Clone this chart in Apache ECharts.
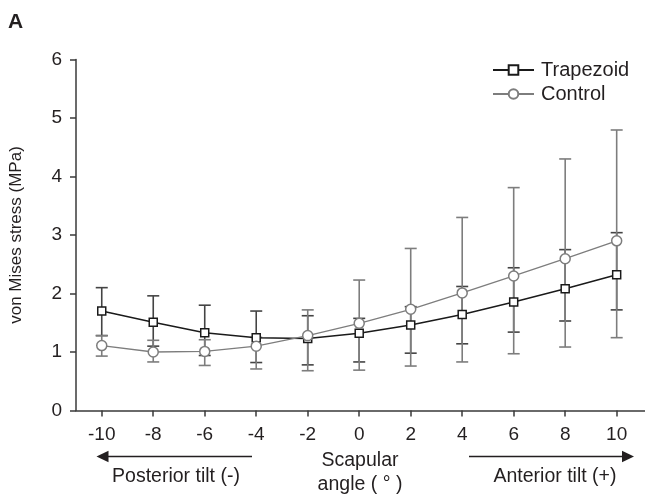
<!DOCTYPE html>
<html>
<head>
<meta charset="utf-8">
<script src="https://cdn.jsdelivr.net/npm/echarts@6/dist/echarts.min.js"></script>
<style>
  html, body { margin: 0; padding: 0; background: #fff; }
  #chart { width: 645px; height: 498px; }
</style>
</head>
<body>
<div id="chart"></div>
<script>
// scapular angle (deg)
const angles = [-10, -8, -6, -4, -2, 0, 2, 4, 6, 8, 10];

// Trapezoid: mean and error bar ends (MPa)
const trapMean = [1.70, 1.51, 1.33, 1.245, 1.23, 1.32, 1.46, 1.64, 1.855, 2.08, 2.32];
const trapLow  = [1.28, 1.10, 0.94, 0.82, 0.78, 0.83, 0.98, 1.14, 1.34, 1.53, 1.72];
const trapHigh = [2.10, 1.96, 1.80, 1.70, 1.62, 1.575, 1.775, 2.12, 2.44, 2.75, 3.04];

// Control
const ctrlMean = [1.11, 1.00, 1.01, 1.10, 1.28, 1.49, 1.73, 2.01, 2.30, 2.595, 2.90];
const ctrlLow  = [0.93, 0.83, 0.77, 0.71, 0.68, 0.69, 0.76, 0.83, 0.97, 1.085, 1.245];
const ctrlHigh = [1.28, 1.20, 1.21, 1.25, 1.72, 2.23, 2.77, 3.30, 3.81, 4.30, 4.795];

const yTicks = [0, 1, 2, 3, 4, 5, 6];

const textColor = '#231f20';
const axisColor = '#3a3a3a';
const trapColor = '#1a1a1a';
const ctrlColor = '#7d7d7d';

function pairs(ys) {
  return angles.map((x, i) => [x, ys[i]]);
}

function errorData(low, high) {
  return angles.map((x, i) => [x, low[i], high[i]]);
}

function errorSeries(name, low, high, color) {
  return {
    name: name,
    type: 'custom',
    silent: true,
    z: 1,
    data: errorData(low, high),
    encode: { x: 0, y: [1, 2] },
    renderItem: function (params, api) {
      const x = api.value(0);
      const lo = api.coord([x, api.value(1)]);
      const hi = api.coord([x, api.value(2)]);
      const w = 6;
      const style = { stroke: color, lineWidth: 1.6 };
      return {
        type: 'group',
        children: [
          { type: 'line', shape: { x1: lo[0], y1: lo[1], x2: hi[0], y2: hi[1] }, style: style },
          { type: 'line', shape: { x1: lo[0] - w, y1: lo[1], x2: lo[0] + w, y2: lo[1] }, style: style },
          { type: 'line', shape: { x1: hi[0] - w, y1: hi[1], x2: hi[0] + w, y2: hi[1] }, style: style }
        ]
      };
    }
  };
}

const chart = echarts.init(document.getElementById('chart'), null, { renderer: 'canvas' });

const font = 'Liberation Sans, Arial, sans-serif';

function label(x, y, text) {
  return {
    type: 'text', x: x, y: y,
    style: { text: text, align: 'center', verticalAlign: 'middle', fontSize: 19.5, fill: textColor, fontFamily: font }
  };
}

const option = {
  animation: false,
  backgroundColor: '#fff',
  textStyle: { fontFamily: font },
  grid: { left: 76, top: 59.5, width: 570, height: 351, containLabel: false },
  legend: {
    orient: 'vertical',
    left: 487,
    top: 55,
    itemWidth: 41,
    itemHeight: 12,
    itemGap: 4,
    data: ['Trapezoid', 'Control'],
    textStyle: { fontSize: 20, color: textColor, fontFamily: font, padding: [0, 0, 0, 2] }
  },
  xAxis: {
    type: 'value',
    min: -11,
    max: 11.1,
    axisLine: { onZero: false, lineStyle: { color: axisColor, width: 1.5 } },
    axisTick: { show: true, length: 6, lineStyle: { color: axisColor, width: 1.5 }, customValues: angles },
    axisLabel: { fontSize: 19, color: textColor, margin: 15, fontFamily: font, customValues: angles },
    splitLine: { show: false }
  },
  yAxis: {
    type: 'value',
    min: 0,
    max: 6,
    interval: 1,
    name: 'von Mises stress (MPa)',
    nameLocation: 'middle',
    nameGap: 51,
    nameTextStyle: { fontSize: 17, color: textColor, fontFamily: font },
    axisLine: { show: true, onZero: false, lineStyle: { color: axisColor, width: 1.5 } },
    axisTick: { show: true, length: 6, lineStyle: { color: axisColor, width: 1.5 } },
    axisLabel: { fontSize: 19, color: textColor, margin: 14, fontFamily: font, customValues: yTicks },
    splitLine: { show: false }
  },
  series: [
    errorSeries('Trapezoid error', trapLow, trapHigh, '#444'),
    errorSeries('Control error', ctrlLow, ctrlHigh, ctrlColor),
    {
      name: 'Trapezoid',
      type: 'line',
      z: 3,
      color: trapColor,
      data: pairs(trapMean),
      symbol: 'rect',
      symbolSize: 8,
      lineStyle: { color: trapColor, width: 1.5 },
      itemStyle: { color: '#fff', borderColor: trapColor, borderWidth: 1.5 }
    },
    {
      name: 'Control',
      type: 'line',
      z: 4,
      color: ctrlColor,
      data: pairs(ctrlMean),
      symbol: 'circle',
      symbolSize: 10,
      lineStyle: { color: ctrlColor, width: 1.3 },
      itemStyle: { color: '#fff', borderColor: ctrlColor, borderWidth: 1.5 }
    }
  ],
  graphic: [
    { type: 'text', left: 8, top: 12, style: { text: 'A', fill: textColor, font: 'bold 21px ' + font } },
    // posterior arrow
    { type: 'line', shape: { x1: 252, y1: 456.5, x2: 105, y2: 456.5 }, style: { stroke: textColor, lineWidth: 1.5 } },
    { type: 'polygon', shape: { points: [[96.5, 456.5], [108.5, 450.8], [108.5, 462.2]] }, style: { fill: textColor } },
    // anterior arrow
    { type: 'line', shape: { x1: 469, y1: 456.5, x2: 625, y2: 456.5 }, style: { stroke: textColor, lineWidth: 1.5 } },
    { type: 'polygon', shape: { points: [[634, 456.5], [622, 450.8], [622, 462.2]] }, style: { fill: textColor } },
    label(176, 477, 'Posterior tilt (-)'),
    label(555, 477, 'Anterior tilt (+)'),
    label(360, 461, 'Scapular'),
    label(360, 485, 'angle ( ° )')
  ]
};

chart.setOption(option);
</script>
</body>
</html>
